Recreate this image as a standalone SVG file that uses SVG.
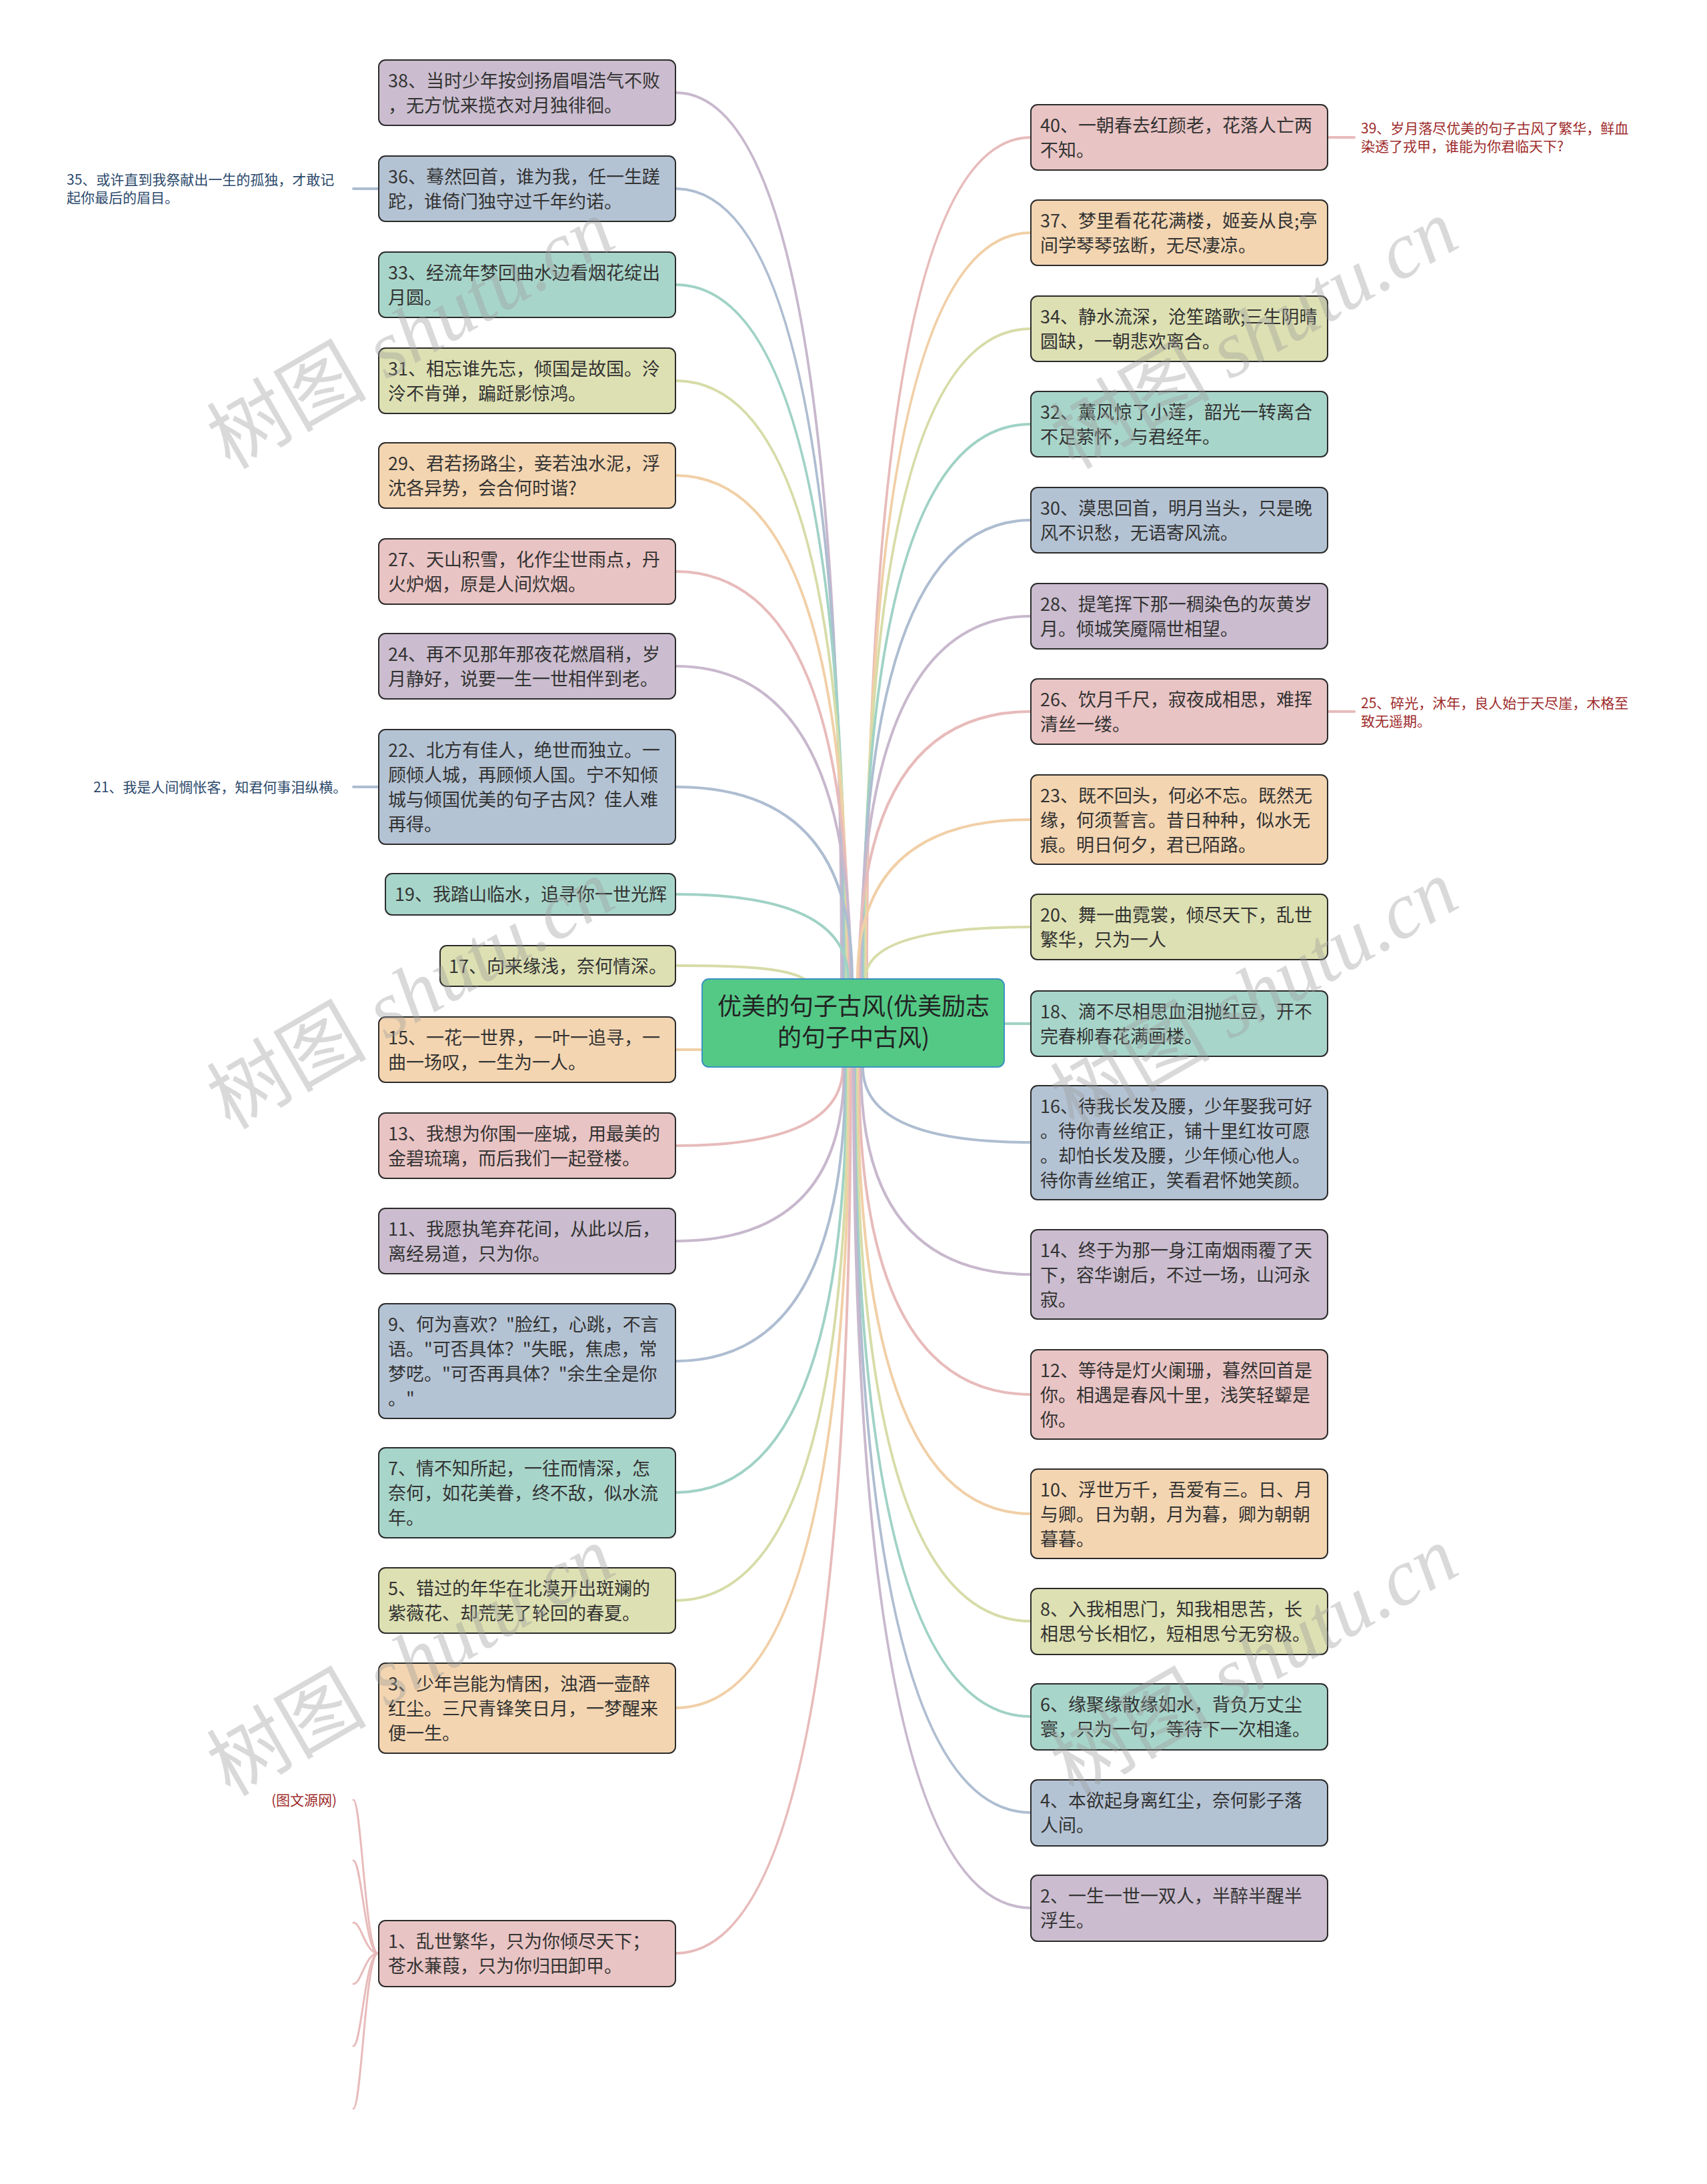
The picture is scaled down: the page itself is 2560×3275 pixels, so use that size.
<svg xmlns="http://www.w3.org/2000/svg" width="2560" height="3275" viewBox="0 0 2560 3275">
<style>
.n{stroke:#2b2b2b;stroke-width:2}
.t{font-family:"Noto Sans CJK SC","Noto Sans",sans-serif;font-size:27px;fill:#333}
.ct{font-family:"Noto Sans CJK SC","Noto Sans",sans-serif;font-size:36px;fill:#222;text-anchor:middle}
.et{font-family:"Noto Sans CJK SC","Noto Sans",sans-serif;font-size:21px}
.navy{fill:#2d4a6c}
.red{fill:#9e2b2b}
.pu{fill:#CBBDCF}.bl{fill:#B4C3D4}.te{fill:#A8D5CA}.ye{fill:#DDE0B2}.or{fill:#F3D5B1}.pk{fill:#E9C4C4}
.c{fill:none;stroke-width:4;stroke-linecap:round}
.cpu{stroke:#C8B8CD}.cbl{stroke:#AEBDD1}.cte{stroke:#A0D2C5}.cye{stroke:#D7DCA8}.cor{stroke:#F1CFA6}.cpk{stroke:#E8BBBB}
.wm{font-family:"Liberation Serif","Noto Sans CJK SC",serif;font-size:120px;fill:#9a9a9a;fill-opacity:0.38}
</style>
<rect width="2560" height="3275" fill="#ffffff"/>
<g id="connectors">
<path class="c cpu" d="M1013,139 Q1262,139 1262,1468"/>
<path class="c cbl" d="M1013,283 Q1265,283 1265,1468"/>
<path class="c cte" d="M1013,427 Q1268,427 1268,1468"/>
<path class="c cye" d="M1013,571 Q1270,571 1270,1468"/>
<path class="c cor" d="M1013,713 Q1272,713 1272,1468"/>
<path class="c cpk" d="M1013,857 Q1274,857 1274,1468"/>
<path class="c cpu" d="M1013,999 Q1276,999 1276,1468"/>
<path class="c cbl" d="M1013,1180 Q1278,1180 1278,1468"/>
<path class="c cte" d="M1013,1341 Q1272,1341 1272,1468"/>
<path class="c cye" d="M1013,1448 C1120,1448 1180,1452 1206,1468"/>
<path class="c cor" d="M1013,1574 L1053,1574"/>
<path class="c cpk" d="M1013,1718 Q1264,1718 1264,1600"/>
<path class="c cpu" d="M1013,1861 Q1266,1861 1266,1600"/>
<path class="c cbl" d="M1013,2041 Q1268,2041 1268,1600"/>
<path class="c cte" d="M1013,2238 Q1270,2238 1270,1600"/>
<path class="c cye" d="M1013,2400 Q1272,2400 1272,1600"/>
<path class="c cor" d="M1013,2561 Q1274,2561 1274,1600"/>
<path class="c cpk" d="M1013,2929 Q1276,2929 1276,1600"/>
<path class="c cpk" d="M1300,1468 Q1300,206 1546,206"/>
<path class="c cor" d="M1298,1468 Q1298,349 1546,349"/>
<path class="c cye" d="M1296,1468 Q1296,493 1546,493"/>
<path class="c cte" d="M1294,1468 Q1294,636 1546,636"/>
<path class="c cbl" d="M1292,1468 Q1292,780 1546,780"/>
<path class="c cpu" d="M1290,1468 Q1290,924 1546,924"/>
<path class="c cpk" d="M1288,1468 Q1288,1067 1546,1067"/>
<path class="c cor" d="M1286,1468 Q1286,1229 1546,1229"/>
<path class="c cye" d="M1298,1468 Q1298,1390 1546,1390"/>
<path class="c cte" d="M1506,1535 L1546,1535"/>
<path class="c cbl" d="M1294,1600 Q1294,1713 1546,1713"/>
<path class="c cpu" d="M1291,1600 Q1291,1911 1546,1911"/>
<path class="c cpk" d="M1288,1600 Q1288,2091 1546,2091"/>
<path class="c cor" d="M1286,1600 Q1286,2270 1546,2270"/>
<path class="c cye" d="M1284,1600 Q1284,2431 1546,2431"/>
<path class="c cte" d="M1282,1600 Q1282,2574 1546,2574"/>
<path class="c cbl" d="M1281,1600 Q1281,2718 1546,2718"/>
<path class="c cpu" d="M1280,1600 Q1280,2861 1546,2861"/>
<path class="c cbl" d="M568,283 L530,283"/>
<path class="c cbl" d="M568,1180 L530,1180"/>
<path class="c cpk" d="M1991,206 L2031,206"/>
<path class="c cpk" d="M1991,1067 L2031,1067"/>
<path class="c cpk" style="stroke-width:3" d="M530,2699 C542,2699 548,2929 567,2929"/>
<path class="c cpk" style="stroke-width:3" d="M530,2790 C542,2790 548,2929 567,2929"/>
<path class="c cpk" style="stroke-width:3" d="M530,2883 C542,2883 548,2929 567,2929"/>
<path class="c cpk" style="stroke-width:3" d="M530,2975 C542,2975 548,2929 567,2929"/>
<path class="c cpk" style="stroke-width:3" d="M530,3068 C542,3068 548,2929 567,2929"/>
<path class="c cpk" style="stroke-width:3" d="M530,3162 C542,3162 548,2929 567,2929"/>
</g>
<g id="center">
<rect x="1053" y="1468" width="453" height="132" rx="10" fill="#54C986" stroke="#3A93C0" stroke-width="2"/>
<text class="ct" x="1280" y="1522">优美的句子古风(优美励志</text>
<text class="ct" x="1280" y="1569">的句子中古风)</text>
</g>
<g id="n38"><rect class="n pu" x="568" y="90" width="445" height="98" rx="10"/><text class="t" x="582" y="131">38、当时少年按剑扬眉唱浩气不败</text><text class="t" x="582" y="168">，无方忧来揽衣对月独徘徊。</text></g>
<g id="n36"><rect class="n bl" x="568" y="234" width="445" height="98" rx="10"/><text class="t" x="582" y="275">36、蓦然回首，谁为我，任一生蹉</text><text class="t" x="582" y="312">跎，谁倚门独守过千年约诺。</text></g>
<g id="n35"><text class="et navy" x="100" y="277">35、或许直到我祭献出一生的孤独，才敢记</text><text class="et navy" x="100" y="304">起你最后的眉目。</text></g>
<g id="n33"><rect class="n te" x="568" y="378" width="445" height="98" rx="10"/><text class="t" x="582" y="419">33、经流年梦回曲水边看烟花绽出</text><text class="t" x="582" y="456">月圆。</text></g>
<g id="n31"><rect class="n ye" x="568" y="522" width="445" height="98" rx="10"/><text class="t" x="582" y="563">31、相忘谁先忘，倾国是故国。泠</text><text class="t" x="582" y="600">泠不肯弹，蹁跹影惊鸿。</text></g>
<g id="n29"><rect class="n or" x="568" y="664" width="445" height="98" rx="10"/><text class="t" x="582" y="705">29、君若扬路尘，妾若浊水泥，浮</text><text class="t" x="582" y="742">沈各异势，会合何时谐?</text></g>
<g id="n27"><rect class="n pk" x="568" y="808" width="445" height="98" rx="10"/><text class="t" x="582" y="849">27、天山积雪，化作尘世雨点，丹</text><text class="t" x="582" y="886">火炉烟，原是人间炊烟。</text></g>
<g id="n24"><rect class="n pu" x="568" y="950" width="445" height="98" rx="10"/><text class="t" x="582" y="991">24、再不见那年那夜花燃眉稍，岁</text><text class="t" x="582" y="1028">月静好，说要一生一世相伴到老。</text></g>
<g id="n22"><rect class="n bl" x="568" y="1094" width="445" height="172" rx="10"/><text class="t" x="582" y="1135">22、北方有佳人，绝世而独立。一</text><text class="t" x="582" y="1172">顾倾人城，再顾倾人国。宁不知倾</text><text class="t" x="582" y="1209">城与倾国优美的句子古风？佳人难</text><text class="t" x="582" y="1246">再得。</text></g>
<g id="n21"><text class="et navy" x="140" y="1188">21、我是人间惆怅客，知君何事泪纵横。</text></g>
<g id="n19"><rect class="n te" x="578" y="1310" width="435" height="62" rx="10"/><text class="t" x="592" y="1351">19、我踏山临水，追寻你一世光辉</text></g>
<g id="n17"><rect class="n ye" x="660" y="1418" width="353" height="61" rx="10"/><text class="t" x="673" y="1459">17、向来缘浅，奈何情深。</text></g>
<g id="n15"><rect class="n or" x="568" y="1525" width="445" height="98" rx="10"/><text class="t" x="582" y="1566">15、一花一世界，一叶一追寻，一</text><text class="t" x="582" y="1603">曲一场叹，一生为一人。</text></g>
<g id="n13"><rect class="n pk" x="568" y="1669" width="445" height="98" rx="10"/><text class="t" x="582" y="1710">13、我想为你围一座城，用最美的</text><text class="t" x="582" y="1747">金碧琉璃，而后我们一起登楼。</text></g>
<g id="n11"><rect class="n pu" x="568" y="1812" width="445" height="98" rx="10"/><text class="t" x="582" y="1853">11、我愿执笔弃花间，从此以后，</text><text class="t" x="582" y="1890">离经易道，只为你。</text></g>
<g id="n9"><rect class="n bl" x="568" y="1955" width="445" height="172" rx="10"/><text class="t" x="582" y="1996">9、何为喜欢？"脸红，心跳，不言</text><text class="t" x="582" y="2033">语。"可否具体？"失眠，焦虑，常</text><text class="t" x="582" y="2070">梦呓。"可否再具体？"余生全是你</text><text class="t" x="582" y="2107">。"</text></g>
<g id="n7"><rect class="n te" x="568" y="2171" width="445" height="135" rx="10"/><text class="t" x="582" y="2212">7、情不知所起，一往而情深，怎</text><text class="t" x="582" y="2249">奈何，如花美眷，终不敌，似水流</text><text class="t" x="582" y="2286">年。</text></g>
<g id="n5"><rect class="n ye" x="568" y="2351" width="445" height="98" rx="10"/><text class="t" x="582" y="2392">5、错过的年华在北漠开出斑斓的</text><text class="t" x="582" y="2429">紫薇花、却荒芜了轮回的春夏。</text></g>
<g id="n3"><rect class="n or" x="568" y="2494" width="445" height="135" rx="10"/><text class="t" x="582" y="2535">3、少年岂能为情困，浊酒一壶醉</text><text class="t" x="582" y="2572">红尘。三尺青锋笑日月，一梦醒来</text><text class="t" x="582" y="2609">便一生。</text></g>
<g id="nsrc"><text class="et red" x="407" y="2707">(图文源网)</text></g>
<g id="n1"><rect class="n pk" x="568" y="2880" width="445" height="99" rx="10"/><text class="t" x="582" y="2921">1、乱世繁华，只为你倾尽天下；</text><text class="t" x="582" y="2958">苍水蒹葭，只为你归田卸甲。</text></g>
<g id="n40"><rect class="n pk" x="1546" y="157" width="445" height="98" rx="10"/><text class="t" x="1560" y="198">40、一朝春去红颜老，花落人亡两</text><text class="t" x="1560" y="235">不知。</text></g>
<g id="n39"><text class="et red" x="2041" y="200">39、岁月落尽优美的句子古风了繁华，鲜血</text><text class="et red" x="2041" y="227">染透了戎甲，谁能为你君临天下?</text></g>
<g id="n37"><rect class="n or" x="1546" y="300" width="445" height="98" rx="10"/><text class="t" x="1560" y="341">37、梦里看花花满楼，姬妾从良;亭</text><text class="t" x="1560" y="378">间学琴琴弦断，无尽凄凉。</text></g>
<g id="n34"><rect class="n ye" x="1546" y="444" width="445" height="98" rx="10"/><text class="t" x="1560" y="485">34、静水流深，沧笙踏歌;三生阴晴</text><text class="t" x="1560" y="522">圆缺，一朝悲欢离合。</text></g>
<g id="n32"><rect class="n te" x="1546" y="587" width="445" height="98" rx="10"/><text class="t" x="1560" y="628">32、薰风惊了小莲，韶光一转离合</text><text class="t" x="1560" y="665">不足萦怀，与君经年。</text></g>
<g id="n30"><rect class="n bl" x="1546" y="731" width="445" height="98" rx="10"/><text class="t" x="1560" y="772">30、漠思回首，明月当头，只是晚</text><text class="t" x="1560" y="809">风不识愁，无语寄风流。</text></g>
<g id="n28"><rect class="n pu" x="1546" y="875" width="445" height="98" rx="10"/><text class="t" x="1560" y="916">28、提笔挥下那一稠染色的灰黄岁</text><text class="t" x="1560" y="953">月。倾城笑魇隔世相望。</text></g>
<g id="n26"><rect class="n pk" x="1546" y="1018" width="445" height="98" rx="10"/><text class="t" x="1560" y="1059">26、饮月千尺，寂夜成相思，难挥</text><text class="t" x="1560" y="1096">清丝一缕。</text></g>
<g id="n25"><text class="et red" x="2041" y="1062">25、碎光，沐年，良人始于天尽崖，木格至</text><text class="et red" x="2041" y="1089">致无遥期。</text></g>
<g id="n23"><rect class="n or" x="1546" y="1162" width="445" height="134" rx="10"/><text class="t" x="1560" y="1203">23、既不回头，何必不忘。既然无</text><text class="t" x="1560" y="1240">缘，何须誓言。昔日种种，似水无</text><text class="t" x="1560" y="1277">痕。明日何夕，君已陌路。</text></g>
<g id="n20"><rect class="n ye" x="1546" y="1341" width="445" height="98" rx="10"/><text class="t" x="1560" y="1382">20、舞一曲霓裳，倾尽天下，乱世</text><text class="t" x="1560" y="1419">繁华，只为一人</text></g>
<g id="n18"><rect class="n te" x="1546" y="1486" width="445" height="98" rx="10"/><text class="t" x="1560" y="1527">18、滴不尽相思血泪抛红豆，开不</text><text class="t" x="1560" y="1564">完春柳春花满画楼。</text></g>
<g id="n16"><rect class="n bl" x="1546" y="1628" width="445" height="171" rx="10"/><text class="t" x="1560" y="1669">16、待我长发及腰，少年娶我可好</text><text class="t" x="1560" y="1706">。待你青丝绾正，铺十里红妆可愿</text><text class="t" x="1560" y="1743">。却怕长发及腰，少年倾心他人。</text><text class="t" x="1560" y="1780">待你青丝绾正，笑看君怀她笑颜。</text></g>
<g id="n14"><rect class="n pu" x="1546" y="1844" width="445" height="134" rx="10"/><text class="t" x="1560" y="1885">14、终于为那一身江南烟雨覆了天</text><text class="t" x="1560" y="1922">下，容华谢后，不过一场，山河永</text><text class="t" x="1560" y="1959">寂。</text></g>
<g id="n12"><rect class="n pk" x="1546" y="2024" width="445" height="134" rx="10"/><text class="t" x="1560" y="2065">12、等待是灯火阑珊，暮然回首是</text><text class="t" x="1560" y="2102">你。相遇是春风十里，浅笑轻颦是</text><text class="t" x="1560" y="2139">你。</text></g>
<g id="n10"><rect class="n or" x="1546" y="2203" width="445" height="134" rx="10"/><text class="t" x="1560" y="2244">10、浮世万千，吾爱有三。日、月</text><text class="t" x="1560" y="2281">与卿。日为朝，月为暮，卿为朝朝</text><text class="t" x="1560" y="2318">暮暮。</text></g>
<g id="n8"><rect class="n ye" x="1546" y="2382" width="445" height="99" rx="10"/><text class="t" x="1560" y="2423">8、入我相思门，知我相思苦，长</text><text class="t" x="1560" y="2460">相思兮长相忆，短相思兮无穷极。</text></g>
<g id="n6"><rect class="n te" x="1546" y="2525" width="445" height="99" rx="10"/><text class="t" x="1560" y="2566">6、缘聚缘散缘如水，背负万丈尘</text><text class="t" x="1560" y="2603">寰，只为一句，等待下一次相逢。</text></g>
<g id="n4"><rect class="n bl" x="1546" y="2669" width="445" height="99" rx="10"/><text class="t" x="1560" y="2710">4、本欲起身离红尘，奈何影子落</text><text class="t" x="1560" y="2747">人间。</text></g>
<g id="n2"><rect class="n pu" x="1546" y="2812" width="445" height="99" rx="10"/><text class="t" x="1560" y="2853">2、一生一世一双人，半醉半醒半</text><text class="t" x="1560" y="2890">浮生。</text></g>
<g id="watermark">
<text class="wm" x="345" y="705" transform="rotate(-30 345 705)">树图 <tspan font-style="italic">shutu.cn</tspan></text>
<text class="wm" x="1610" y="705" transform="rotate(-30 1610 705)">树图 <tspan font-style="italic">shutu.cn</tspan></text>
<text class="wm" x="345" y="1695" transform="rotate(-30 345 1695)">树图 <tspan font-style="italic">shutu.cn</tspan></text>
<text class="wm" x="1610" y="1695" transform="rotate(-30 1610 1695)">树图 <tspan font-style="italic">shutu.cn</tspan></text>
<text class="wm" x="345" y="2695" transform="rotate(-30 345 2695)">树图 <tspan font-style="italic">shutu.cn</tspan></text>
<text class="wm" x="1610" y="2695" transform="rotate(-30 1610 2695)">树图 <tspan font-style="italic">shutu.cn</tspan></text>
</g>
</svg>
